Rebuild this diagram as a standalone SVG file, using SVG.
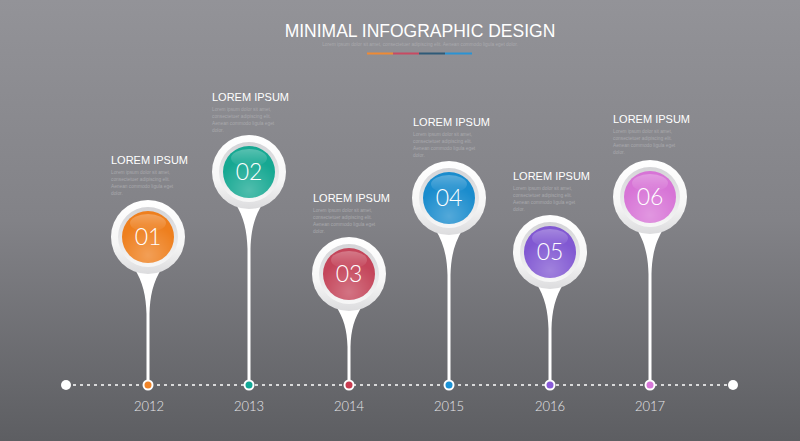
<svg xmlns="http://www.w3.org/2000/svg" width="800" height="441" viewBox="0 0 800 441">
<defs>
<linearGradient id="bg" x1="0" y1="0" x2="0" y2="1">
<stop offset="0" stop-color="#939398"/>
<stop offset="0.5" stop-color="#828287"/>
<stop offset="1" stop-color="#5d5e62"/>
</linearGradient>
<linearGradient id="ring" x1="0" y1="0" x2="0" y2="1">
<stop offset="0" stop-color="#ffffff"/>
<stop offset="0.6" stop-color="#f6f6f6"/>
<stop offset="1" stop-color="#dcdcde"/>
</linearGradient>
<linearGradient id="inring" x1="0" y1="0" x2="0" y2="1">
<stop offset="0" stop-color="#d4d4d7"/>
<stop offset="1" stop-color="#f7f7f7"/>
</linearGradient>
<radialGradient id="shine" cx="0.5" cy="0.85" r="0.6">
<stop offset="0" stop-color="#ffffff" stop-opacity="0.25"/>
<stop offset="1" stop-color="#ffffff" stop-opacity="0"/>
</radialGradient>
<linearGradient id="gloss" x1="0" y1="0" x2="0" y2="1">
<stop offset="0" stop-color="#ffffff" stop-opacity="0.28"/>
<stop offset="1" stop-color="#ffffff" stop-opacity="0.02"/>
</linearGradient>
</defs>
<style>
.title{font-family:"Liberation Sans",Arial,sans-serif;font-size:11px;fill:#ffffff}
.small{font-family:"Liberation Sans",Arial,sans-serif;font-size:4.8px;fill:#a9a9ad}
.num{font-family:Lato,"Open Sans",sans-serif;font-weight:300;font-size:23px;fill:#ffffff;text-anchor:middle}
.year{font-family:Lato,"Liberation Sans",sans-serif;font-weight:300;font-size:13px;fill:#e6e6e8;text-anchor:middle}
.stem{fill:#ffffff}
</style>
<rect width="800" height="441" fill="url(#bg)"/>

<g id="header">
<text x="420" y="37" text-anchor="middle" font-family="Liberation Sans, Arial, sans-serif" font-size="17.5" fill="#ffffff">MINIMAL INFOGRAPHIC DESIGN</text>
<text x="420" y="45.5" text-anchor="middle" class="small" fill="#cfcfd2">Lorem ipsum dolor sit amet, consectetuer adipiscing elit. Aenean commodo ligula eget dolor.</text>
<rect x="367" y="52.5" width="26" height="2" fill="#ef8a34"/>
<rect x="393" y="52.5" width="26" height="2" fill="#c84a62"/>
<rect x="419" y="52.5" width="26" height="2" fill="#2e5a78"/>
<rect x="445" y="52.5" width="27" height="2" fill="#2a93d4"/>
</g>

<g id="connectors">
<line x1="66" y1="385" x2="733" y2="385" stroke="#ffffff" stroke-width="1.6" stroke-dasharray="3 4"/>
<circle cx="66" cy="385" r="5" fill="#ffffff"/>
<circle cx="733" cy="385" r="5" fill="#ffffff"/>
</g>

<g id="pin1">
<path class="stem" d="M134 268 C143 282 146 296 146.5 314 L146.5 385 L149.5 385 L149.5 314 C150 296 153 282 162 268 Z"/>
<circle cx="148" cy="237" r="37" fill="url(#ring)"/>
<circle cx="148" cy="237" r="30" fill="url(#inring)"/>
<circle cx="148" cy="237" r="26" fill="#ee7f1e"/>
<circle cx="148" cy="237" r="26" fill="url(#shine)"/>
<ellipse cx="148" cy="223" rx="18" ry="9" fill="url(#gloss)"/>
<text class="num" x="148" y="245">01</text>
<circle cx="148" cy="385" r="5.5" fill="#ffffff"/>
<circle cx="148" cy="385" r="3.5" fill="#f08428"/>
<text class="year" x="149" y="411">2012</text>
<text class="title" x="111" y="164">LOREM IPSUM</text>
<text class="small" x="111" y="174">Lorem ipsum dolor sit amet,</text>
<text class="small" x="111" y="181">consectetuer adipiscing elit.</text>
<text class="small" x="111" y="188">Aenean commodo ligula eget</text>
<text class="small" x="111" y="195">dolor.</text>
</g>

<g id="pin2">
<path class="stem" d="M235 203 C244 217 247 231 247.5 249 L247.5 385 L250.5 385 L250.5 249 C251 231 254 217 263 203 Z"/>
<circle cx="249" cy="172" r="37" fill="url(#ring)"/>
<circle cx="249" cy="172" r="30" fill="url(#inring)"/>
<circle cx="249" cy="172" r="26" fill="#16a892"/>
<circle cx="249" cy="172" r="26" fill="url(#shine)"/>
<ellipse cx="249" cy="158" rx="18" ry="9" fill="url(#gloss)"/>
<text class="num" x="249" y="180">02</text>
<circle cx="249" cy="385" r="5.5" fill="#ffffff"/>
<circle cx="249" cy="385" r="3.5" fill="#13a896"/>
<text class="year" x="249" y="411">2013</text>
<text class="title" x="212" y="101">LOREM IPSUM</text>
<text class="small" x="212" y="111">Lorem ipsum dolor sit amet,</text>
<text class="small" x="212" y="118">consectetuer adipiscing elit.</text>
<text class="small" x="212" y="125">Aenean commodo ligula eget</text>
<text class="small" x="212" y="132">dolor.</text>
</g>

<g id="pin3">
<path class="stem" d="M335 305 C344 318 347 330 347.5 347 L347.5 385 L350.5 385 L350.5 347 C351 330 354 318 363 305 Z"/>
<circle cx="349" cy="274" r="37" fill="url(#ring)"/>
<circle cx="349" cy="274" r="30" fill="url(#inring)"/>
<circle cx="349" cy="274" r="26" fill="#c4455a"/>
<circle cx="349" cy="274" r="26" fill="url(#shine)"/>
<ellipse cx="349" cy="260" rx="18" ry="9" fill="url(#gloss)"/>
<text class="num" x="349" y="282">03</text>
<circle cx="349" cy="385" r="5.5" fill="#ffffff"/>
<circle cx="349" cy="385" r="3.5" fill="#c83c50"/>
<text class="year" x="349" y="411">2014</text>
<text class="title" x="313" y="202">LOREM IPSUM</text>
<text class="small" x="313" y="212">Lorem ipsum dolor sit amet,</text>
<text class="small" x="313" y="219">consectetuer adipiscing elit.</text>
<text class="small" x="313" y="226">Aenean commodo ligula eget</text>
<text class="small" x="313" y="233">dolor.</text>
</g>

<g id="pin4">
<path class="stem" d="M435 229 C444 243 447 257 447.5 275 L447.5 385 L450.5 385 L450.5 275 C451 257 454 243 463 229 Z"/>
<circle cx="449" cy="198" r="37" fill="url(#ring)"/>
<circle cx="449" cy="198" r="30" fill="url(#inring)"/>
<circle cx="449" cy="198" r="26" fill="#1a8ccd"/>
<circle cx="449" cy="198" r="26" fill="url(#shine)"/>
<ellipse cx="449" cy="184" rx="18" ry="9" fill="url(#gloss)"/>
<text class="num" x="449" y="206">04</text>
<circle cx="449" cy="385" r="5.5" fill="#ffffff"/>
<circle cx="449" cy="385" r="3.5" fill="#1b92d6"/>
<text class="year" x="449" y="411">2015</text>
<text class="title" x="413" y="126">LOREM IPSUM</text>
<text class="small" x="413" y="136">Lorem ipsum dolor sit amet,</text>
<text class="small" x="413" y="143">consectetuer adipiscing elit.</text>
<text class="small" x="413" y="150">Aenean commodo ligula eget</text>
<text class="small" x="413" y="157">dolor.</text>
</g>

<g id="pin5">
<path class="stem" d="M536 283 C545 297 548 311 548.5 329 L548.5 385 L551.5 385 L551.5 329 C552 311 555 297 564 283 Z"/>
<circle cx="550" cy="252" r="37" fill="url(#ring)"/>
<circle cx="550" cy="252" r="30" fill="url(#inring)"/>
<circle cx="550" cy="252" r="26" fill="#8158d2"/>
<circle cx="550" cy="252" r="26" fill="url(#shine)"/>
<ellipse cx="550" cy="238" rx="18" ry="9" fill="url(#gloss)"/>
<text class="num" x="550" y="260">05</text>
<circle cx="550" cy="385" r="5.5" fill="#ffffff"/>
<circle cx="550" cy="385" r="3.5" fill="#8a5cd8"/>
<text class="year" x="550" y="411">2016</text>
<text class="title" x="513" y="180">LOREM IPSUM</text>
<text class="small" x="513" y="190">Lorem ipsum dolor sit amet,</text>
<text class="small" x="513" y="197">consectetuer adipiscing elit.</text>
<text class="small" x="513" y="204">Aenean commodo ligula eget</text>
<text class="small" x="513" y="211">dolor.</text>
</g>

<g id="pin6">
<path class="stem" d="M636 228 C645 242 648 256 648.5 274 L648.5 385 L651.5 385 L651.5 274 C652 256 655 242 664 228 Z"/>
<circle cx="650" cy="197" r="37" fill="url(#ring)"/>
<circle cx="650" cy="197" r="30" fill="url(#inring)"/>
<circle cx="650" cy="197" r="26" fill="#d774d6"/>
<circle cx="650" cy="197" r="26" fill="url(#shine)"/>
<ellipse cx="650" cy="183" rx="18" ry="9" fill="url(#gloss)"/>
<text class="num" x="650" y="205">06</text>
<circle cx="650" cy="385" r="5.5" fill="#ffffff"/>
<circle cx="650" cy="385" r="3.5" fill="#d778d8"/>
<text class="year" x="650" y="411">2017</text>
<text class="title" x="613" y="123">LOREM IPSUM</text>
<text class="small" x="613" y="133">Lorem ipsum dolor sit amet,</text>
<text class="small" x="613" y="140">consectetuer adipiscing elit.</text>
<text class="small" x="613" y="147">Aenean commodo ligula eget</text>
<text class="small" x="613" y="154">dolor.</text>
</g>
</svg>
